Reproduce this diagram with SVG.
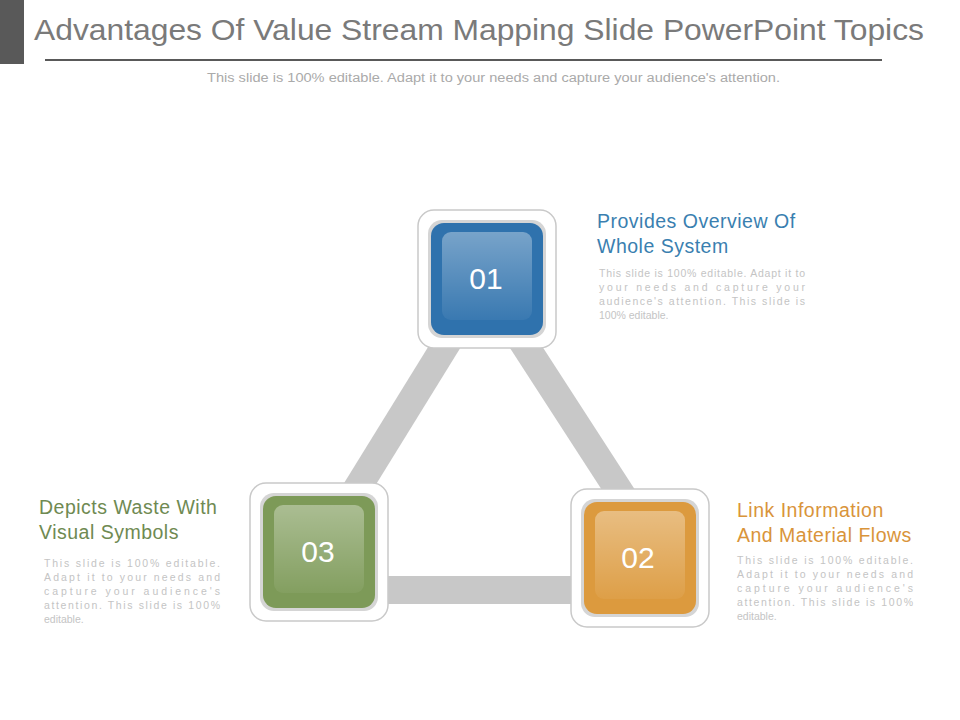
<svg xmlns="http://www.w3.org/2000/svg" width="960" height="720" viewBox="0 0 960 720">
<defs>
<style>
.t{font-family:"Liberation Sans",Arial,sans-serif}
.head{font-size:19.5px;letter-spacing:0.5px}
.body{font-size:10.5px;fill:#c4c4c4}
.num{font-size:30px;fill:#ffffff;text-anchor:middle}
.frame{fill:#ffffff;stroke:#c9c9c9;stroke-width:1.5}
.bar{stroke:#c8c8c8;stroke-width:28;fill:none}
</style>
<linearGradient id="hl" x1="0" y1="0" x2="0" y2="1"><stop offset="0" stop-color="#fff" stop-opacity="0.35"/><stop offset="1" stop-color="#fff" stop-opacity="0.05"/></linearGradient>
<linearGradient id="fr" x1="0" y1="0" x2="0" y2="1"><stop offset="0" stop-color="#ffffff"/><stop offset="1" stop-color="#ececec"/></linearGradient>
</defs>
<rect width="960" height="720" fill="#fff"/>
<rect x="0" y="0" width="24" height="64" fill="#595959"/>
<text class="t" x="34" y="40" font-size="30" fill="#7a7a7a" textLength="890" lengthAdjust="spacingAndGlyphs">Advantages  Of Value Stream Mapping Slide PowerPoint Topics</text>
<line x1="45" y1="60" x2="882" y2="60" stroke="#595959" stroke-width="2"/>
<text class="t" x="207" y="82" font-size="12.5" fill="#aaaaaa" textLength="573" lengthAdjust="spacingAndGlyphs">This slide is 100% editable. Adapt it to your needs and capture your audience's attention.</text>
<g id="connectors">
<line class="bar" x1="455" y1="330" x2="350" y2="500"/>
<line class="bar" x1="515" y1="330" x2="625" y2="500"/>
<line class="bar" x1="380" y1="590" x2="580" y2="590"/>
</g>
<g id="node01">
<rect class="frame" x="418" y="210" width="138" height="138" rx="16" fill="url(#fr)"/>
<rect x="428" y="220" width="118" height="118" rx="14" fill="#d5d5d5"/>
<rect x="431" y="223" width="112" height="112" rx="13" fill="#2f72ad"/>
<rect x="442" y="232" width="90" height="88" rx="9" fill="url(#hl)"/>
<text class="t num" x="486" y="289">01</text>
</g>
<g id="node02">
<rect class="frame" x="571" y="489" width="138" height="138" rx="16" fill="url(#fr)"/>
<rect x="581" y="499" width="118" height="118" rx="14" fill="#d5d5d5"/>
<rect x="584" y="502" width="112" height="112" rx="13" fill="#dc9a3e"/>
<rect x="595" y="511" width="90" height="88" rx="9" fill="url(#hl)"/>
<text class="t num" x="638" y="568">02</text>
</g>
<g id="node03">
<rect class="frame" x="250" y="483" width="138" height="138" rx="16" fill="url(#fr)"/>
<rect x="260" y="493" width="118" height="118" rx="14" fill="#d5d5d5"/>
<rect x="263" y="496" width="112" height="112" rx="13" fill="#7d9a58"/>
<rect x="274" y="505" width="90" height="88" rx="9" fill="url(#hl)"/>
<text class="t num" x="318" y="562">03</text>
</g>
<g id="text01">
<text class="t head" x="597" y="228" fill="#3a7fb0">Provides Overview Of</text>
<text class="t head" x="597" y="253" fill="#3a7fb0">Whole System</text>
<text class="t body" x="599" y="277" textLength="206" lengthAdjust="spacing">This slide is 100% editable. Adapt it to</text>
<text class="t body" x="599" y="291" textLength="206" lengthAdjust="spacing">your  needs  and  capture  your</text>
<text class="t body" x="599" y="305" textLength="206" lengthAdjust="spacing">audience's  attention.  This  slide  is</text>
<text class="t body" x="599" y="319">100% editable.</text>
</g>
<g id="text02">
<text class="t head" x="737" y="517" fill="#d9943a">Link Information</text>
<text class="t head" x="737" y="542" fill="#d9943a">And Material Flows</text>
<text class="t body" x="737" y="564" textLength="176" lengthAdjust="spacing">This slide is 100% editable.</text>
<text class="t body" x="737" y="578" textLength="176" lengthAdjust="spacing">Adapt it to your needs and</text>
<text class="t body" x="737" y="592" textLength="176" lengthAdjust="spacing">capture your audience's</text>
<text class="t body" x="737" y="606" textLength="176" lengthAdjust="spacing">attention. This slide is 100%</text>
<text class="t body" x="737" y="620">editable.</text>
</g>
<g id="text03">
<text class="t head" x="39" y="514" fill="#6f8a52">Depicts Waste With</text>
<text class="t head" x="39" y="539" fill="#6f8a52">Visual Symbols</text>
<text class="t body" x="44" y="567" textLength="176" lengthAdjust="spacing">This slide is 100% editable.</text>
<text class="t body" x="44" y="581" textLength="176" lengthAdjust="spacing">Adapt it to your needs and</text>
<text class="t body" x="44" y="595" textLength="176" lengthAdjust="spacing">capture your audience's</text>
<text class="t body" x="44" y="609" textLength="176" lengthAdjust="spacing">attention. This slide is 100%</text>
<text class="t body" x="44" y="623">editable.</text>
</g>
</svg>
